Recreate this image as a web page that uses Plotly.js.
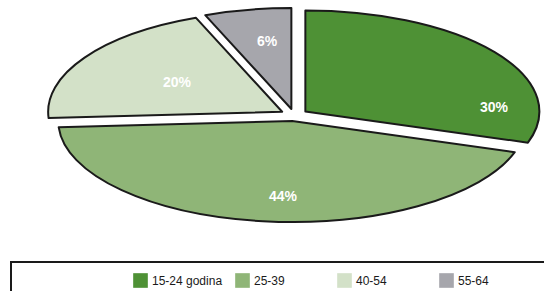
<!DOCTYPE html>
<html><head><meta charset="utf-8">
<script src="https://cdn.plot.ly/plotly-3.0.1.min.js"></script>
<style>html,body{margin:0;padding:0;background:#fff;}#chart{width:544px;height:291px;}</style>
</head><body><div id="chart"></div>
<script>
// ---- data ----
var categories = ['15-24 godina', '25-39', '40-54', '55-64'];
var shares = [30, 44, 20, 6];
var sliceColors = ['#4e9135', '#8fb577', '#d3e1c8', '#a6a6ac'];

// ---- layout constants (pixels) ----
var W = 544, H = 291;
var ellipse = {cx: 294, cy: 115, rx: 234, ry: 101};
var labelPx = [[494, 107], [283, 196], [177, 82], [267, 41]];

var annotations = shares.map(function (v, i) {
  return {
    xref: 'paper', yref: 'paper',
    x: labelPx[i][0] / W, y: 1 - labelPx[i][1] / H,
    xanchor: 'center', yanchor: 'middle', showarrow: false,
    text: v + '%',
    font: {family: 'Liberation Sans, Arial, sans-serif', size: 14, color: '#ffffff', weight: 'bold'}
  };
});

var data = [{
  type: 'pie',
  labels: categories,
  values: shares,
  sort: false,
  direction: 'clockwise',
  rotation: 0,
  pull: 0.06,
  textinfo: 'none',
  hoverinfo: 'skip',
  marker: {colors: sliceColors, line: {color: '#1a1a1a', width: 2}},
  domain: {x: [0, 1], y: [0, 1]}
}];

var layout = {
  width: W, height: H,
  margin: {l: 0, r: 0, t: 0, b: 0},
  paper_bgcolor: '#ffffff',
  showlegend: true,
  legend: {
    orientation: 'h',
    x: 112 / W, xanchor: 'left',
    y: 0, yanchor: 'bottom',
    entrywidth: 57, entrywidthmode: 'pixels',
    bgcolor: 'rgba(0,0,0,0)', borderwidth: 0,
    font: {family: 'Liberation Sans, Arial, sans-serif', size: 12, color: '#1a1a1a'}
  },
  shapes: [{
    type: 'rect', xref: 'paper', yref: 'paper',
    x0: 11 / W, x1: 1.05, y0: -0.2, y1: (H - 262) / H,
    line: {color: '#1a1a1a', width: 2}, fillcolor: 'rgba(0,0,0,0)'
  }],
  annotations: annotations
};

Plotly.newPlot('chart', data, layout, {staticPlot: true, displayModeBar: false}).then(function (gd) {
  // squash the circular pie into the ellipse of the original chart
  var cd0 = gd.calcdata[0][0];
  var sx = ellipse.rx / cd0.r, sy = ellipse.ry / cd0.r;
  var g = gd.querySelector('.pielayer .trace');
  if (g) {
    g.setAttribute('transform', 'translate(' + ellipse.cx + ',' + ellipse.cy + ') scale(' + sx + ',' + sy + ') translate(' + (-cd0.cx) + ',' + (-cd0.cy) + ')');
    g.querySelectorAll('path').forEach(function (p) { p.setAttribute('vector-effect', 'non-scaling-stroke'); });
  }
  // legend swatches: borderless, slightly larger, close to text
  gd.querySelectorAll('.legend path.legendpie').forEach(function (p) {
    p.setAttribute('transform', 'translate(28.5,0) scale(1.22)');
    p.style.strokeWidth = '0px';
  });
  // nudge legend row down to the original baseline
  var lg = gd.querySelector('g.legend');
  if (lg) lg.setAttribute('transform', (lg.getAttribute('transform') || '') + ' translate(0,4)');
});
</script>
</body></html>
